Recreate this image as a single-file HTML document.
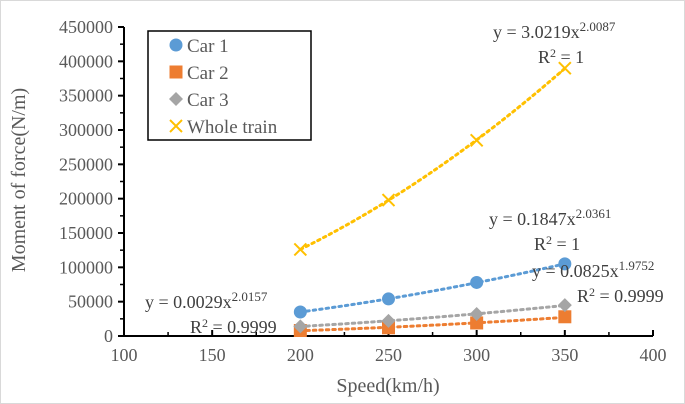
<!DOCTYPE html>
<html><head><meta charset="utf-8"><style>
html,body{margin:0;padding:0;background:#fff;}
svg{display:block;font-family:"Liberation Serif",serif;}
</style></head><body>
<svg id="c" width="685" height="404" viewBox="0 0 685 404">
<rect x="0" y="0" width="685" height="404" fill="#fff" stroke="#d9d9d9" stroke-width="2"/>
<g id="plot"></g>
</svg>
<script>
const speeds=[200,250,300,350];
const car1=[35000,54000,78000,105000];
const car2=[8000,12000,19000,28000];
const car3=[14000,22000,32000,45000];
const whole=[126000,198000,285000,390000];
const xTicks=[100,150,200,250,300,350,400];
const yTicks=[0,50000,100000,150000,200000,250000,300000,350000,400000,450000];

const NS="http://www.w3.org/2000/svg";
const g=document.getElementById('plot');
const X0=124,X1=653,Y0=336,Y1=27;
const xs=v=>X0+(v-100)/300*(X1-X0);
const ys=v=>Y0-v/450000*(Y0-Y1);
function mk(t,a,p){const e=document.createElementNS(NS,t);for(const k in a)e.setAttribute(k,a[k]);(p||g).appendChild(e);return e;}

let e=mk('line',{x1:X0,y1:Y0,x2:X1,y2:Y0,stroke:'#000','stroke-width':2});


e=mk('line',{x1:X0,y1:Y1,x2:X0,y2:Y0,stroke:'#000','stroke-width':2});


for(let i=0;i<yTicks.length;i++){
  const y=ys(yTicks[i]);
  mk('line',{x1:X0-6,y1:y,x2:X0,y2:y,stroke:'#000','stroke-width':2});
  if(i<yTicks.length-1){const ym=ys(yTicks[i]+25000);mk('line',{x1:X0-4,y1:ym,x2:X0,y2:ym,stroke:'#000','stroke-width':1.5});}
  e=mk('text',{x:X0-11,y:y+6,'text-anchor':'end','font-size':18,fill:'#595959'});
  e.textContent=yTicks[i];
  
  
}
for(let i=0;i<xTicks.length;i++){
  const x=xs(xTicks[i]);
  mk('line',{x1:x,y1:Y0-6,x2:x,y2:Y0,stroke:'#000','stroke-width':2});
  if(i<xTicks.length-1){const xm=xs(xTicks[i]+25);mk('line',{x1:xm,y1:Y0-4,x2:xm,y2:Y0,stroke:'#000','stroke-width':1.5});}
  e=mk('text',{x:x,y:Y0+25,'text-anchor':'middle','font-size':18,fill:'#595959'});
  e.textContent=xTicks[i];
  
  
}
e=mk('text',{x:388,y:392,'text-anchor':'middle','font-size':20,fill:'#595959'});
e.textContent='Speed(km/h)';


e=mk('text',{x:0,y:0,'text-anchor':'middle','font-size':20,fill:'#595959',transform:'translate(25,180) rotate(-90)'});
e.textContent='Moment of force(N/m)';



const series=[[car1,'#5b9bd5','circle','car1'],[car2,'#ed7d31','square','car2'],[car3,'#a5a5a5','diamond','car3'],[whole,'#ffc000','cross','whole-train']];
function marker(type,x,y,c,p){
  if(type==='circle')return mk('circle',{cx:x,cy:y,r:6.5,fill:c},p);
  if(type==='square')return mk('rect',{x:x-6.5,y:y-6.5,width:13,height:13,fill:c},p);
  if(type==='diamond')return mk('polygon',{points:`${x},${y-7} ${x+7},${y} ${x},${y+7} ${x-7},${y}`,fill:c},p);
  return mk('path',{d:`M${x-6},${y-6}L${x+6},${y+6}M${x+6},${y-6}L${x-6},${y+6}`,stroke:c,'stroke-width':2,fill:'none'},p);
}
function powerFit(xv,yv){
  const lx=xv.map(Math.log),ly=yv.map(Math.log),n=xv.length;
  const mx=lx.reduce((a,b)=>a+b)/n,my=ly.reduce((a,b)=>a+b)/n;
  let sxy=0,sxx=0;for(let i=0;i<n;i++){sxy+=(lx[i]-mx)*(ly[i]-my);sxx+=(lx[i]-mx)**2;}
  const b=sxy/sxx;return [Math.exp(my-b*mx),b];
}
series.forEach((s)=>{
  const [vals,c,type,name]=s;
  const [a,b]=powerFit(speeds,vals);
  let pts=[];
  for(let v=speeds[0];v<=speeds[speeds.length-1];v+=5)pts.push(xs(v)+','+ys(a*Math.pow(v,b)));
  e=mk('polyline',{points:pts.join(' '),fill:'none',stroke:c,'stroke-width':3,'stroke-dasharray':'2.5 4','stroke-linecap':'round'});
  
  
  vals.forEach((v,i)=>{
    e=marker(type,xs(speeds[i]),ys(v),c);
    
    
  });
});

const lg=mk('g',{});


mk('rect',{x:148,y:31,width:163,height:109,fill:'#fff',stroke:'#000','stroke-width':1.5},lg);
const names=['Car 1','Car 2','Car 3','Whole train'];
series.forEach((s,i)=>{
  const y=45+i*27;
  const gi=mk('g',{},lg);
  
  
  marker(s[2],176,y,s[1],gi);
  const t=mk('text',{x:187,y:y+7,'font-size':19,fill:'#595959'},gi);
  t.textContent=names[i];
});

function eq(x,y,a,b,r,name){
  const t=mk('text',{x:x,y:y,'font-size':18,fill:'#404040'});
  t.innerHTML='y = '+a+'x<tspan dy="-7" font-size="13">'+b+'</tspan>';
  
  
  const t2=mk('text',{x:x+45,y:y+25,'font-size':18,fill:'#404040'});
  t2.innerHTML='R<tspan dy="-6" font-size="12">2</tspan><tspan dy="6"> = '+r+'</tspan>';
  
  
}
eq(493,38,'3.0219','2.0087','1','whole-train');
eq(489,225,'0.1847','2.0361','1','car1');
eq(532,277,'0.0825','1.9752','0.9999','car3');
eq(145,308,'0.0029','2.0157','0.9999','car2');
</script>
</body></html>
